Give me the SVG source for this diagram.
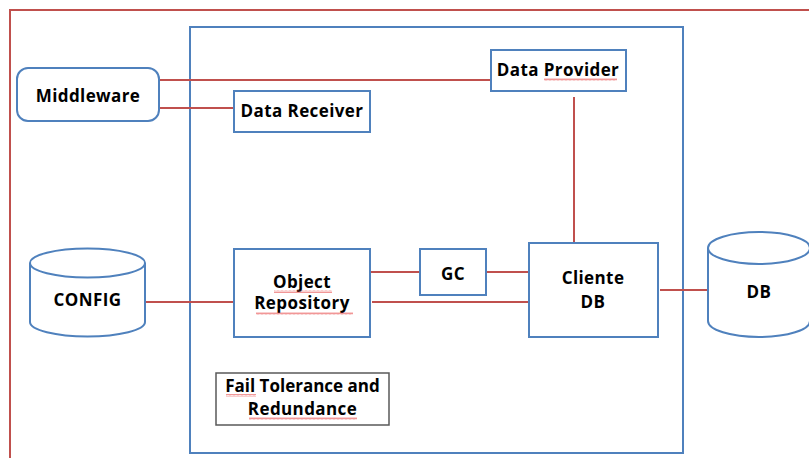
<svg xmlns="http://www.w3.org/2000/svg" width="809" height="458" viewBox="0 0 809 458">
  <defs>
    <style>
      .frame { fill: none; stroke: #C0504D; stroke-width: 2; }
      .box { fill: #FFFFFF; stroke: #4F81BD; stroke-width: 2; }
      .note { fill: #FFFFFF; stroke: #595959; stroke-width: 1.5; }
      .link { fill: none; stroke: #C0504D; stroke-width: 2; }
      .lbl { font-family: "Open Sans", "Liberation Sans", sans-serif; font-weight: 700; font-size: 17px; letter-spacing: 0.4px; fill: #000000; text-anchor: middle; }
      .tight { letter-spacing: 0; }
    </style>
    <pattern id="wave" width="4" height="3" patternUnits="userSpaceOnUse">
      <path d="M0,2.5 L1,0.5 L2,2.5 L3,0.5 L4,2.5" fill="none" stroke="#E85050" stroke-width="0.6"/>
    </pattern>
  </defs>

  <rect width="809" height="458" fill="#FFFFFF"/>

  <!-- outer frame -->
  <path class="frame" d="M10,458 V10 H809"/>

  <!-- system boundary -->
  <rect id="system" class="box" x="190" y="27" width="493" height="426" fill="none"/>

  <!-- connectors -->
  <g id="connectors">
    <line class="link" x1="159" y1="80" x2="491" y2="80"/>
    <line class="link" x1="159" y1="108" x2="234" y2="108"/>
    <line class="link" x1="574" y1="97" x2="574" y2="243"/>
    <line class="link" x1="371" y1="272" x2="419" y2="272"/>
    <line class="link" x1="487" y1="272" x2="529" y2="272"/>
    <line class="link" x1="372" y1="302" x2="529" y2="302"/>
    <line class="link" x1="146" y1="302" x2="233" y2="302"/>
    <line class="link" x1="660" y1="290" x2="708" y2="290"/>
  </g>

  <g id="middleware">
    <rect class="box" x="17" y="68" width="142" height="53" rx="11"/>
    <text class="lbl" x="88" y="102">Middleware</text>
  </g>

  <g id="data-receiver">
    <rect class="box" x="234" y="91" width="136" height="41"/>
    <text class="lbl" x="302" y="117">Data Receiver</text>
  </g>

  <g id="data-provider">
    <rect class="box" x="491" y="50" width="135" height="41"/>
    <text class="lbl" x="558" y="76">Data Provider</text>
    <rect x="544" y="78" width="73" height="3" fill="url(#wave)"/>
  </g>

  <g id="config">
    <path class="box" d="M30,263 A57.5,14.5 0 0 1 145,263 V322 A57.5,14.5 0 0 1 30,322 Z"/>
    <path class="box" fill="none" d="M30,263 A57.5,14.5 0 0 0 145,263"/>
    <text class="lbl" x="87.5" y="306">CONFIG</text>
  </g>

  <g id="object-repository">
    <rect class="box" x="234" y="249" width="136" height="88"/>
    <text class="lbl" x="302" y="288">Object</text>
    <text class="lbl" x="302" y="309">Repository</text>
    <rect x="274" y="290" width="58" height="3" fill="url(#wave)"/>
    <rect x="256" y="312" width="97" height="3" fill="url(#wave)"/>
  </g>

  <g id="gc">
    <rect class="box" x="420" y="249" width="66" height="46"/>
    <text class="lbl" x="453" y="280">GC</text>
  </g>

  <g id="cliente-db">
    <rect class="box" x="529" y="243" width="129" height="94"/>
    <text class="lbl" x="593" y="284">Cliente</text>
    <text class="lbl" x="593" y="308">DB</text>
  </g>

  <g id="db">
    <path class="box" d="M708,248 A51,16 0 0 1 810,248 V321 A51,16 0 0 1 708,321 Z"/>
    <path class="box" fill="none" d="M708,248 A51,16 0 0 0 810,248"/>
    <text class="lbl" x="759" y="298">DB</text>
  </g>

  <g id="fail-tolerance">
    <rect class="note" x="216" y="373" width="173" height="52"/>
    <text class="lbl tight" x="302.5" y="392">Fail Tolerance and</text>
    <text class="lbl" x="302.5" y="415">Redundance</text>
    <rect x="226" y="394" width="30" height="3" fill="url(#wave)"/>
    <rect x="249" y="417" width="108" height="3" fill="url(#wave)"/>
  </g>
</svg>
